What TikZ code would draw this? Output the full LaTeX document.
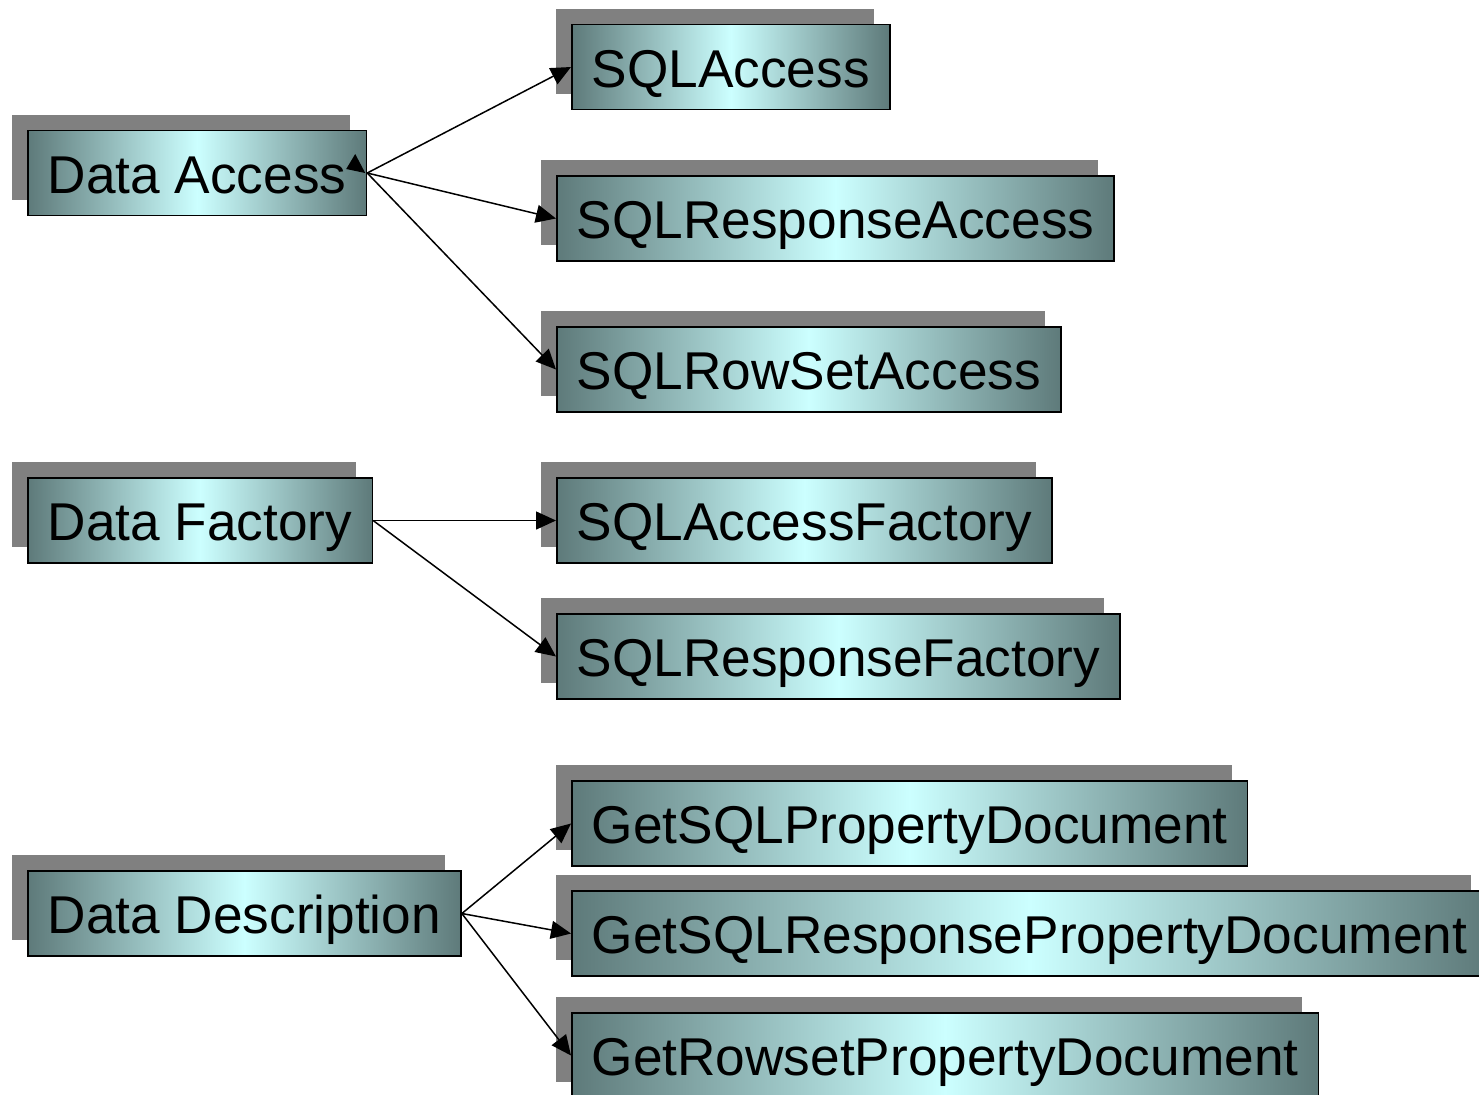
\documentclass[tikz,border=0pt]{standalone}
\usepackage{fontspec}
\setmainfont{Liberation Sans}
\usetikzlibrary{arrows.meta, shadows}

\definecolor{boxdark}{RGB}{94,122,122}
\definecolor{boxlight}{RGB}{204,255,255}
\definecolor{shadowgray}{RGB}{128,128,128}

\tikzset{
  cls/.style={draw, line width=0.8pt, anchor=west,
    left color=boxdark, right color=boxdark, middle color=boxlight,
    minimum height=42.5pt, inner xsep=10pt,
    text height=20pt, text depth=0pt,
    font=\fontsize{26.6}{30}\selectfont,
    drop shadow={shadow xshift=-8pt, shadow yshift=8pt, fill=shadowgray, opacity=1}},
  link/.style={line width=0.75pt, -{Triangle[length=10pt,width=9pt]}}
}

\begin{document}
\begin{tikzpicture}[x=0.5pt, y=-0.5pt]
  \useasboundingbox (0,0) rectangle (1479,1094);

  % left column
  \node[cls] (da) at (27,173) {Data Access};
  \node[cls] (df) at (27,520.5) {Data Factory};
  \node[cls] (dd) at (27,913.5) {Data Description};

  % right column
  \node[cls] (sqla)   at (571,67)    {SQLAccess};
  \node[cls] (sqlra)  at (556,218.5) {SQLResponseAccess};
  \node[cls] (sqlrsa) at (556,369.5) {SQLRowSetAccess};
  \node[cls] (sqlaf)  at (556,520.5) {SQLAccessFactory};
  \node[cls] (sqlrf)  at (556,656.5) {SQLResponseFactory};
  \node[cls] (gspd)   at (571,823.5) {GetSQLPropertyDocument};
  \node[cls] (gsrpd)  at (571,933.5) {GetSQLResponsePropertyDocument};
  \node[cls] (grpd)   at (571,1055.5) {GetRowsetPropertyDocument};

  \draw[link] (da.east) -- (sqla.west);
  \draw[link] (da.east) -- (sqlra.west);
  \draw[link] (da.east) -- (sqlrsa.west);
  \fill (da.east) ++(-21,-4) -- ++(19,4) -- ++(-10,-19) -- cycle;

  \draw[link] (df.east) -- (sqlaf.west);
  \draw[link] (df.east) -- (sqlrf.west);

  \draw[link] (dd.east) -- (gspd.west);
  \draw[link] (dd.east) -- (gsrpd.west);
  \draw[link] (dd.east) -- (grpd.west);
\end{tikzpicture}
\end{document}
